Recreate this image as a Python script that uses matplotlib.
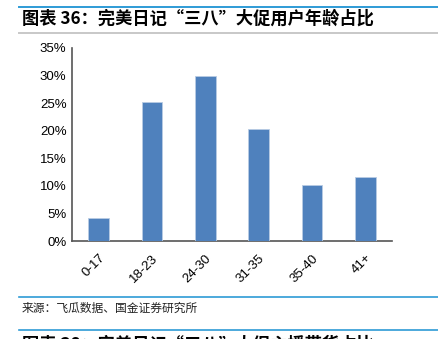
import matplotlib
matplotlib.use("Agg")
import matplotlib.pyplot as plt
from matplotlib.lines import Line2D

categories = ["0-17", "18-23", "24-30", "31-35", "35-40", "41+"]
values = [4.2, 25.2, 29.9, 20.4, 10.1, 11.6]
yticks = [0, 5, 10, 15, 20, 25, 30, 35]
title = "图表 36：完美日记“三八”大促用户年龄占比"
source = "来源：飞瓜数据、国金证券研究所"
next_title = "图表 38：完美日记“三八”大促主播带货占比"

W, H = 439, 339
fig = plt.figure(figsize=(W / 100, H / 100), dpi=100)
cjk = ["Noto Sans CJK SC", "DejaVu Sans"]

ax = fig.add_axes([72 / W, 1 - 241 / H, (392 - 72) / W, (241 - 48) / H])
x = range(len(categories))
ax.bar(x, values, width=0.39, color="#4F81BD", edgecolor="#B8CCE4", linewidth=0.6, zorder=3)
ax.set_xlim(-0.5, len(categories) - 0.5)
ax.set_ylim(0, 35)
ax.set_yticks(yticks)
ax.set_yticklabels([f"{t}%" for t in yticks], fontfamily="Liberation Sans", fontsize=9.5)
ax.set_xticks(list(x))
ax.set_xticklabels(categories, rotation=45, ha="right", rotation_mode="anchor",
                   fontfamily="Liberation Sans", fontsize=9.5)
for s in ["top", "right"]:
    ax.spines[s].set_visible(False)
for s in ["left", "bottom"]:
    ax.spines[s].set_color("#555555")
    ax.spines[s].set_linewidth(1.2)
ax.tick_params(axis="both", length=0, pad=4)
ax.tick_params(axis="x", pad=8)

def hline(y, color, lw):
    fig.add_artist(Line2D([19 / W, 1], [1 - y / H, 1 - y / H], color=color, linewidth=lw,
                          transform=fig.transFigure))

hline(7, "#2E9BD6", 1.4)
hline(33, "#C8C8C8", 1.4)
hline(297, "#2E9BD6", 1.2)
hline(330, "#2E9BD6", 1.2)

fig.text(22 / W, 1 - 19 / H, title, fontfamily=cjk, fontsize=12.4, fontweight="bold",
         va="center", ha="left", style="italic")
fig.text(22 / W, 1 - 308 / H, source, fontfamily=cjk, fontsize=8.5, va="center", ha="left",
         color="#222222")
fig.text(22 / W, 1 - 345 / H, next_title, fontfamily=cjk, fontsize=12.4, fontweight="bold",
         va="center", ha="left")

fig.savefig("out.png", dpi=100)
